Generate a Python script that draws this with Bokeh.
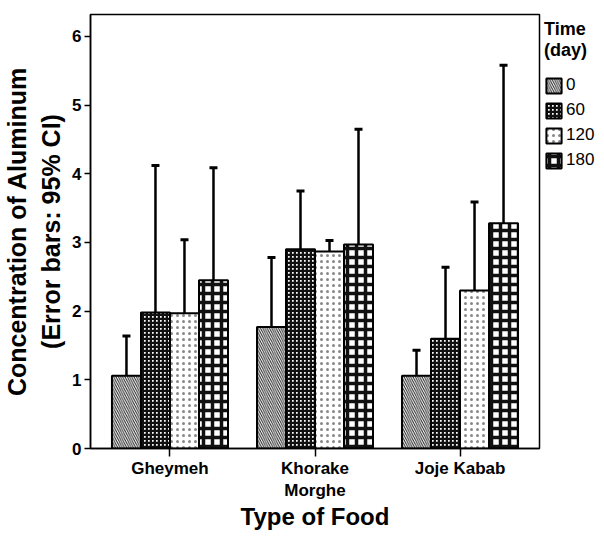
from bokeh.plotting import figure
from bokeh.models import (ColumnDataSource, FactorRange, Range1d, Whisker, TeeHead,
                          Legend, LegendItem, FixedTicker)
from bokeh.transform import dodge
from bokeh.embed import file_html
from bokeh.resources import INLINE

foods = ["Gheymeh", "Khorake\nMorghe", "Joje Kabab"]
times = ["0", "60", "120", "180"]

mean_0 = [1.06, 1.77, 1.06]
mean_60 = [1.98, 2.90, 1.60]
mean_120 = [1.97, 2.87, 2.30]
mean_180 = [2.45, 2.97, 3.28]

low_0 = [0.45, 0.80, 0.65]
up_0 = [1.64, 2.78, 1.43]
low_60 = [-0.16, 2.05, 0.57]
up_60 = [4.12, 3.75, 2.64]
low_120 = [0.92, 2.72, 0.98]
up_120 = [3.04, 3.03, 3.59]
low_180 = [0.78, 1.24, 0.98]
up_180 = [4.09, 4.65, 5.58]

y_ticks = [0, 1, 2, 3, 4, 5, 6]

data = dict(food=foods,
            m0=mean_0, m60=mean_60, m120=mean_120, m180=mean_180,
            l0=low_0, u0=up_0, l60=low_60, u60=up_60,
            l120=low_120, u120=up_120, l180=low_180, u180=up_180)
src = ColumnDataSource(data)

FONT = "Liberation Sans"

p = figure(x_range=FactorRange(*foods, range_padding=0.032),
           y_range=Range1d(0, 6.32),
           frame_width=449, height=533,
           output_backend="svg", toolbar_location=None,
           min_border_left=84, min_border_top=14, min_border_bottom=0,
           min_border_right=0, background_fill_color="white",
           border_fill_color="white")

p.xgrid.visible = False
p.ygrid.visible = False
p.outline_line_color = "black"
p.outline_line_width = 1.5
p.outline_line_alpha = 1

styles = {
    "0": dict(fill_color="white", hatch_pattern="left_diagonal_line", hatch_color="#222222",
              hatch_scale=4.5, hatch_weight=1),
    "60": dict(fill_color="white", hatch_pattern="cross", hatch_color="#111111",
               hatch_scale=4, hatch_weight=2.6),
    "120": dict(fill_color="white", hatch_pattern="dot", hatch_color="#888888",
                hatch_scale=6, hatch_weight=1),
    "180": dict(fill_color="white", hatch_pattern="cross", hatch_color="#111111",
                hatch_scale=9, hatch_weight=3.5),
}

offsets = [-0.3, -0.1, 0.1, 0.3]
bw = 0.2
items = []
for t, off in zip(times, offsets):
    r = p.vbar(x=dodge("food", off, range=p.x_range), top="m" + t, width=bw, source=src,
               line_color="black", line_width=2, **styles[t])
    items.append(LegendItem(label=t, renderers=[r]))

for t, off in zip(times, offsets):
    w = Whisker(base=dodge("food", off, range=p.x_range), lower="l" + t, upper="u" + t,
                source=src, line_color="black", line_width=2.5,
                upper_head=TeeHead(size=8, line_width=3, line_color="black"),
                lower_head=TeeHead(size=8, line_width=3, line_color="black"))
    p.add_layout(w)

legend = Legend(items=items, title="Time\n(day)", location="top_left",
                title_text_font=FONT, title_text_font_style="bold", title_text_font_size="18px",
                title_text_color="black",
                label_text_font=FONT, label_text_font_size="17px", label_text_color="black",
                glyph_width=19, glyph_height=19, label_height=19, spacing=5,
                label_standoff=3, padding=0, margin=5, border_line_color=None,
                background_fill_alpha=0, title_standoff=14)
p.add_layout(legend, "right")

p.yaxis.ticker = FixedTicker(ticks=y_ticks)
p.yaxis.axis_label = "Concentration of Aluminum\n(Error bars: 95% CI)"
p.yaxis.axis_label_text_font = FONT
p.yaxis.axis_label_text_font_style = "bold"
p.yaxis.axis_label_text_font_size = "25px"
p.yaxis.axis_label_text_color = "black"
p.yaxis.axis_label_standoff = 4
p.yaxis.major_label_text_font = FONT
p.yaxis.major_label_text_font_size = "17px"
p.yaxis.major_label_text_font_style = "bold"
p.yaxis.major_label_text_color = "black"
p.yaxis.major_tick_in = 0
p.yaxis.major_tick_out = 6
p.yaxis.minor_tick_line_color = None
p.yaxis.major_tick_line_width = 1.5
p.yaxis.axis_line_width = 1.5
p.yaxis.major_label_standoff = 3

p.xaxis.axis_label = "Type of Food"
p.xaxis.axis_label_text_font = FONT
p.xaxis.axis_label_text_font_style = "bold"
p.xaxis.axis_label_text_font_size = "24px"
p.xaxis.axis_label_text_color = "black"
p.xaxis.axis_label_standoff = 0
p.xaxis.major_label_text_font = FONT
p.xaxis.major_label_text_font_size = "17px"
p.xaxis.major_label_text_font_style = "bold"
p.xaxis.major_label_text_color = "black"
p.xaxis.major_tick_in = 0
p.xaxis.major_tick_out = 8
p.xaxis.major_tick_line_width = 1.5
p.xaxis.axis_line_width = 1.5
p.xaxis.major_label_standoff = 2

open("out.html", "w").write(file_html(p, INLINE))
